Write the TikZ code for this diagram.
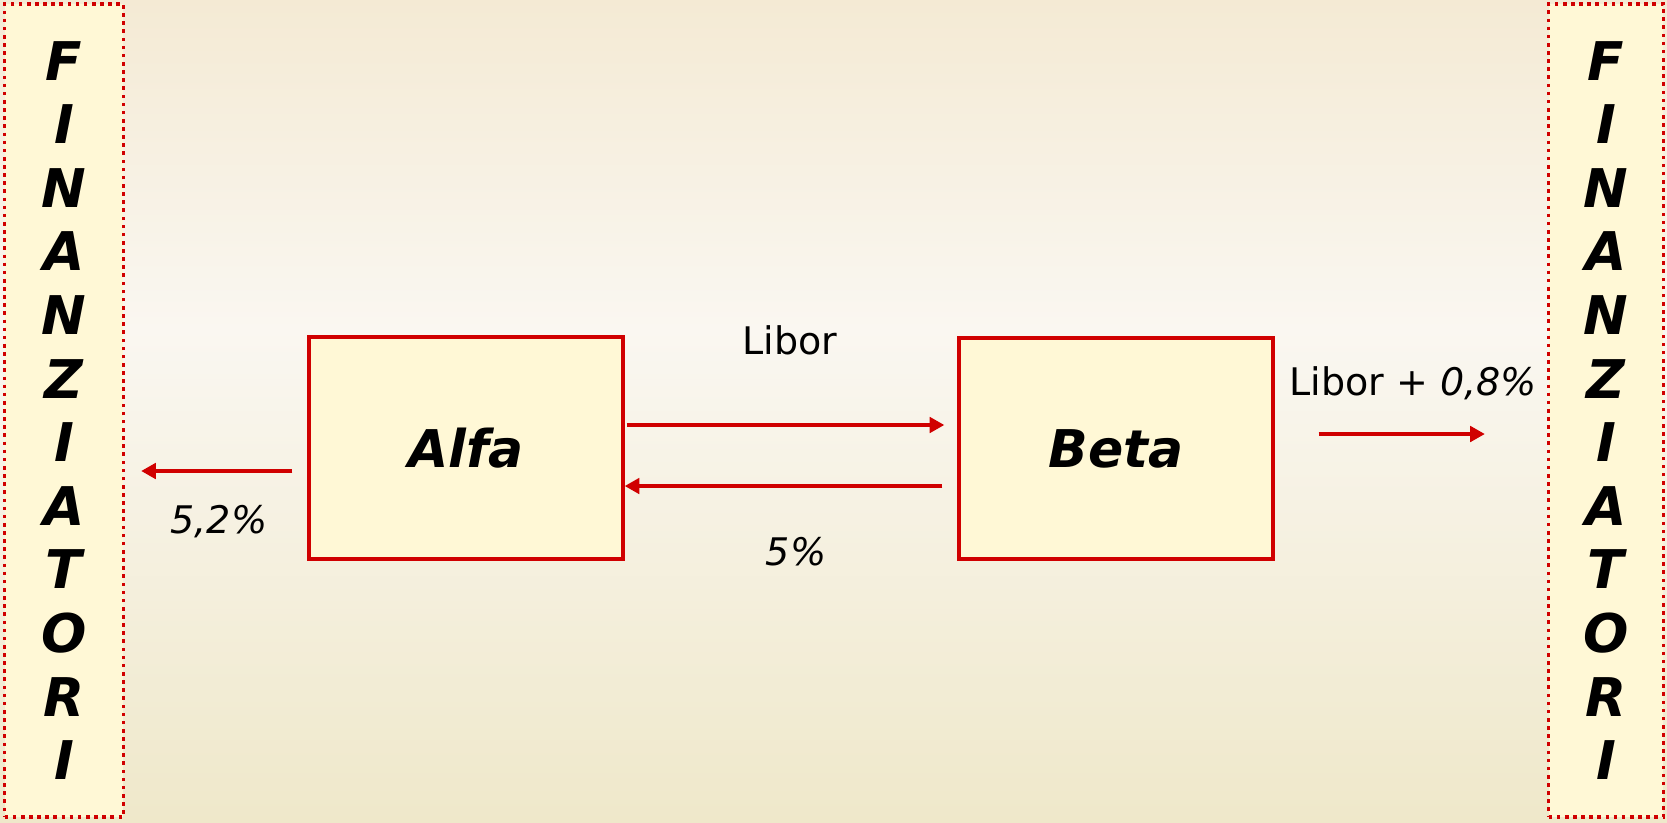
\documentclass[tikz,border=0pt]{standalone}
\usepackage{fontspec}
\setmainfont{DejaVu Sans}
\usetikzlibrary{calc,arrows.meta}
\definecolor{swapred}{RGB}{208,0,0}
\definecolor{boxfill}{RGB}{255,248,214}
\definecolor{bgtop}{RGB}{244,234,212}
\definecolor{bgmid}{RGB}{250,247,241}
\definecolor{bgbot}{RGB}{239,232,202}
\pgfdeclareverticalshading{paper}{100bp}{color(0bp)=(bgbot); color(25bp)=(bgbot); color(55bp)=(bgmid); color(75bp)=(bgtop); color(100bp)=(bgtop)}

\begin{document}
\begin{tikzpicture}[x=0.75pt,y=-0.75pt,
    party/.style={draw=swapred,line width=3pt,fill=boxfill,minimum width=235pt,minimum height=166pt,font=\fontsize{39}{47}\selectfont\bfseries\itshape},
    lender/.style={draw=swapred,line width=2.7pt,dash pattern=on 2.7pt off 3.4pt,fill=boxfill,minimum height=610pt,align=center,font=\fontsize{40}{47.7}\selectfont\bfseries\itshape},
    flow/.style={draw=swapred,line width=2.8pt,-{Triangle[length=11pt,width=11.5pt]}},
    rate/.style={font=\fontsize{28.5}{34}\selectfont}
]
\shade[shading=paper] (0,0) rectangle (1667,822);
\useasboundingbox (0,0) rectangle (1667,822);

% lenders on both sides
\node[lender,minimum width=89pt] (finL) at (64,410.5) {F\\I\\N\\A\\N\\Z\\I\\A\\T\\O\\R\\I};
\node[lender,minimum width=86pt] (finR) at (1606,410.5) {F\\I\\N\\A\\N\\Z\\I\\A\\T\\O\\R\\I};

% the two parties
\node[party] (alfa) at (466,448) {Alfa};
\node[party] (beta) at (1116,448.5) {Beta};

% flows
\draw[flow] ($(alfa.east)+(2,-23)$) -- ($(beta.west)+(-13,-23.5)$);
\draw[flow] ($(beta.west)+(-15,37.5)$) -- ($(alfa.east)+(0,38)$);
\draw[flow] ($(alfa.west)+(-15,23)$) -- ($(finL.east |- alfa.west)+(16,23)$);
\draw[flow] ($(beta.east)+(44,-14.5)$) -- ($(finR.west |- beta.east)+(-62,-14.5)$);

% rates
\node[rate] (libor) at (790,340) {Libor};
\node[rate] (fixed) at (796,552) {\itshape 5\%};
\node[rate] (alfarate) at (219,522) {\itshape 5,2\%};
\node[rate] (betarate) at (1413,383) {Libor + \textit{0,8\%}};
\end{tikzpicture}
\end{document}
